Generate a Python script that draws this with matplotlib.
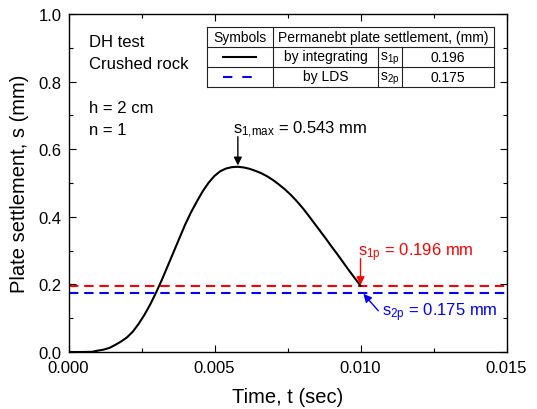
import numpy as np
import matplotlib
matplotlib.use("Agg")
import matplotlib.pyplot as plt
from matplotlib.ticker import FormatStrFormatter, MultipleLocator
from matplotlib.patches import Rectangle

plt.rcParams['font.family'] = ['Liberation Sans', 'DejaVu Sans']
plt.rcParams['mathtext.default'] = 'regular'

# ---- data (time in ms, settlement in mm) ----
time_ms = [0.0, 0.5, 0.8, 1.0, 1.2, 1.4, 1.6, 1.8, 2.0, 2.2, 2.4, 2.6, 2.8, 3.0,
           3.2, 3.4, 3.6, 3.8, 4.0, 4.2, 4.4, 4.6, 4.8, 5.0, 5.2, 5.4, 5.6, 5.8,
           6.0, 6.2, 6.4, 6.6, 6.8, 7.0, 7.2, 7.4, 7.6, 7.8, 8.0, 8.2, 8.4, 8.6,
           8.8, 9.0, 9.2, 9.4, 9.6, 9.8, 10.0]
settlement = [0.0, 0.0, 0.0005, 0.004, 0.007, 0.012, 0.021, 0.031, 0.043, 0.060,
              0.083, 0.110, 0.141, 0.176, 0.214, 0.255, 0.296, 0.337, 0.378, 0.414,
              0.446, 0.476, 0.501, 0.521, 0.535, 0.543, 0.547, 0.548,
              0.546, 0.542, 0.536, 0.529, 0.520, 0.509, 0.496, 0.482, 0.466, 0.448,
              0.428, 0.406, 0.383, 0.360, 0.337, 0.313, 0.290, 0.266, 0.242, 0.219,
              0.196]
s1p = 0.196
s2p = 0.175
s1max = 0.543

x_ticks = [0.000, 0.005, 0.010, 0.015]
y_ticks = [0.0, 0.2, 0.4, 0.6, 0.8, 1.0]

t = np.array(time_ms) / 1000.0
s = np.array(settlement)

# ---- figure ----
W, H = 537, 410
AX_L, AX_R, AX_T, AX_B = 68.5, 506.5, 15.0, 353.0
fig = plt.figure(figsize=(W / 100, H / 100), dpi=100)
ax = fig.add_axes([AX_L / W, 1 - AX_B / H, (AX_R - AX_L) / W, (AX_B - AX_T) / H])

ax.plot(t, s, color='black', lw=1.5, zorder=3)
ax.axhline(s1p, color='#ff0000', lw=1.5, dashes=(4.5, 2.8), zorder=2)
ax.axhline(s2p, color='#0000ff', lw=1.5, dashes=(4.5, 2.8), zorder=2)

ax.set_xlim(0, 0.015)
ax.set_ylim(0, 1.0)
ax.set_xticks(x_ticks)
ax.set_yticks(y_ticks)
ax.xaxis.set_minor_locator(MultipleLocator(0.0025))
ax.yaxis.set_minor_locator(MultipleLocator(0.1))
ax.xaxis.set_major_formatter(FormatStrFormatter('%.3f'))
ax.yaxis.set_major_formatter(FormatStrFormatter('%.1f'))
ax.tick_params(which='both', direction='in', top=True, right=True, width=0.8)
ax.tick_params(which='major', length=5, labelsize=12)
ax.tick_params(which='minor', length=3)
ax.tick_params(axis='x', which='major', pad=6)
ax.tick_params(axis='y', which='major', pad=5)
for sp in ax.spines.values():
    sp.set_linewidth(1.0)

ax.set_xlabel('Time, t (sec)', fontsize=14.5)
ax.set_ylabel('Plate settlement, s (mm)', fontsize=14.5)
ax.xaxis.set_label_coords(0.5, (AX_B - 388) / (AX_B - AX_T))
ax.yaxis.set_label_coords((29 - AX_L) / (AX_R - AX_L), 0.5)

# ---- left text block ----
for txt, yf in [('DH test', 0.9044), ('Crushed rock', 0.8393),
                ('h = 2 cm', 0.7101), ('n = 1', 0.645)]:
    ax.text(0.0468, yf, txt, fontsize=12, transform=ax.transAxes,
            ha='left', va='baseline')

# ---- peak annotation ----
ipk = int(np.argmax(s))
tpk, spk = t[ipk], s[ipk]
ax.annotate('', xy=(tpk, spk + 0.004), xytext=(tpk, 0.637),
            arrowprops=dict(arrowstyle='-|>', color='black', lw=1.0,
                            mutation_scale=12, shrinkA=0, shrinkB=0))
ax.text(0.00564, 0.650, r'$s_{1{,}max}$ = %.3f mm' % s1max, fontsize=12,
        ha='left', va='baseline')

# ---- s1p / s2p annotations ----
ax.annotate('', xy=(t[-1], s1p + 0.002), xytext=(t[-1], 0.276),
            arrowprops=dict(arrowstyle='-|>', color='#ff0000', lw=1.0,
                            mutation_scale=12, shrinkA=0, shrinkB=0))
ax.text(0.00992, 0.287, r'$s_{1p}$ = %.3f mm' % s1p, fontsize=12,
        color='#ff0000', ha='left', va='baseline')
ax.annotate('', xy=(0.01010, s2p - 0.003), xytext=(0.01061, 0.122),
            arrowprops=dict(arrowstyle='-|>', color='#0000ff', lw=1.0,
                            mutation_scale=12, shrinkA=0, shrinkB=0))
ax.text(0.01073, 0.1095, r'$s_{2p}$ = %.3f mm' % s2p, fontsize=12,
        color='#0000ff', ha='left', va='baseline')


# ---- table (pixel layout converted to axes fraction) ----
def pa(px, py):
    return ((px - AX_L) / (AX_R - AX_L), (AX_B - py) / (AX_B - AX_T))


xl, c1, c2, c3, xr = 207, 273, 378, 402, 494
yt, r1, r2, yb = 28, 47.5, 67.5, 87.5
tkw = dict(transform=ax.transAxes, clip_on=False, color='#222222', lw=0.8, zorder=5)

x0, y0 = pa(xl, yb)
x1, y1 = pa(xr, yt)
ax.add_patch(Rectangle((x0, y0), x1 - x0, y1 - y0, transform=ax.transAxes,
                       facecolor='white', edgecolor='none', zorder=4))


def hline(py, pxa, pxb):
    (a, y), (b, _) = pa(pxa, py), pa(pxb, py)
    ax.plot([a, b], [y, y], **tkw)


def vline(px, pya, pyb):
    (x, a), (_, b) = pa(px, pya), pa(px, pyb)
    ax.plot([x, x], [a, b], **tkw)


for py in (yt, r1, r2, yb):
    hline(py, xl, xr)
for px in (xl, xr):
    vline(px, yt, yb)
vline(c1, yt, yb)
vline(c2, r1, yb)
vline(c3, r1, yb)

tfs = 10
ttxt = dict(transform=ax.transAxes, fontsize=tfs, ha='center', va='center', zorder=6)
ax.text(*pa((xl + c1) / 2, (yt + r1) / 2), 'Symbols', **ttxt)
ax.text(*pa((c1 + xr) / 2, (yt + r1) / 2), 'Permanebt plate settlement, (mm)', **ttxt)
ax.text(*pa((c1 + c2) / 2, (r1 + r2) / 2), 'by integrating', **ttxt)
ax.text(*pa((c1 + c2) / 2, (r2 + yb) / 2), 'by LDS', **ttxt)
ax.text(*pa((c2 + c3) / 2, (r1 + r2) / 2 + 1), r'$s_{1p}$', **ttxt)
ax.text(*pa((c2 + c3) / 2, (r2 + yb) / 2 + 1), r'$s_{2p}$', **ttxt)
ax.text(*pa((c3 + xr) / 2, (r1 + r2) / 2), '%.3f' % s1p, **ttxt)
ax.text(*pa((c3 + xr) / 2, (r2 + yb) / 2), '%.3f' % s2p, **ttxt)

# legend samples
(a, y), (b, _) = pa(223, (r1 + r2) / 2), pa(256, (r1 + r2) / 2)
ax.plot([a, b], [y, y], transform=ax.transAxes, clip_on=False, color='black',
        lw=1.5, zorder=6)
(a, y), (b, _) = pa(223, (r2 + yb) / 2), pa(252, (r2 + yb) / 2)
ax.plot([a, b], [y, y], transform=ax.transAxes, clip_on=False, color='#0000ff',
        lw=1.5, dashes=(4.5, 4.8), zorder=6)

fig.savefig('out.png', dpi=100)
